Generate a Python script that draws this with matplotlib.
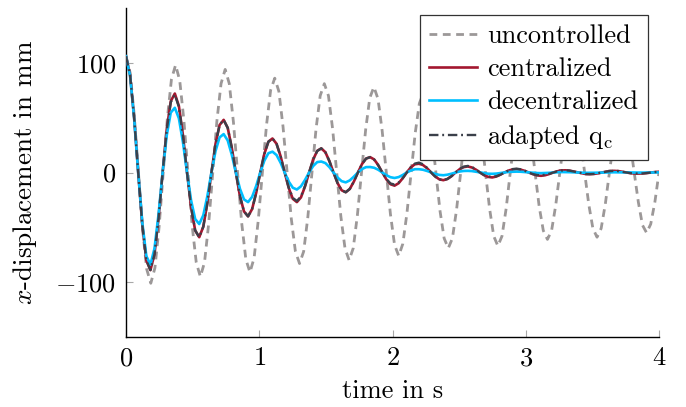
import numpy as np
import matplotlib
matplotlib.use("Agg")
import matplotlib.pyplot as plt

plt.rcParams['font.family'] = 'serif'
plt.rcParams['font.serif'] = ['cmr10']
plt.rcParams['mathtext.fontset'] = 'cm'
plt.rcParams['axes.formatter.use_mathtext'] = True
plt.rcParams['axes.unicode_minus'] = True

# time grids (s)
t_uncontrolled = np.linspace(0.0, 4.0, 130)
t_controlled = np.linspace(0.0, 4.0, 132)

# x-displacement in mm
uncontrolled = [
    106, 91, 52, 0, -51, -88,
    -101, -87, -50, 0, 49, 85,
    98, 84, 48, 0, -48, -82,
    -95, -82, -47, 0, 47, 81,
    94, 81, 46, 0, -46, -79,
    -91, -78, -44, 0, 43, 75,
    86, 74, 42, 0, -42, -72,
    -83, -72, -41, 0, 40, 70,
    81, 70, 40, 0, -40, -69,
    -80, -69, -39, 0, 39, 68,
    78, 67, 38, 0, -38, -66,
    -76, -65, -37, 0, 36, 63,
    73, 62, 36, 0, -35, -60,
    -69, -60, -34, 0, 34, 59,
    68, 59, 34, 0, -33, -58,
    -67, -58, -33, 0, 32, 56,
    64, 55, 32, 0, -31, -53,
    -61, -53, -30, 0, 30, 52,
    60, 52, 30, 0, -29, -51,
    -59, -51, -29, 0, 28, 49,
    57, 49, 28, 0, -27, -48,
    -55, -47, -27, 0,
]

centralized = [
    106, 89, 50, 0, -47.5, -80,
    -89, -74.5, -41.5, 0, 39, 65,
    72, 60.6, 34, 0, -31.5, -52.8,
    -59, -49.4, -27.5, 0, 26, 43.3,
    48, 40.7, 22.5, 0, -21.5, -35.5,
    -40, -33.3, -18.5, 0, 17, 28.1,
    31, 26.2, 14.8, 0, -14.2, -24,
    -27, -22.7, -12.7, 0, 11.8, 19.8,
    22, 18.5, 10.3, 0, -9.7, -16.2,
    -18, -15, -8.3, 0, 7.7, 12.7,
    14, 11.9, 6.7, 0, -6.3, -10.7,
    -12, -9.8, -5.3, 0, 4.7, 7.5,
    8, 6.8, 3.9, 0, -3.6, -6.2,
    -7, -5.9, -3.3, 0, 3.0, 4.9,
    5.5, 4.6, 2.6, 0, -2.4, -4.0,
    -4.5, -3.7, -2.0, 0, 1.7, 2.8,
    3, 2.6, 1.5, 0, -1.5, -2.6,
    -3, -2.5, -1.4, 0, 1.1, 1.9,
    2, 1.7, 0.9, 0, -0.8, -1.4,
    -1.5, -1.3, -0.75, 0, 0.75, 1.3,
    1.5, 1.3, 0.7, 0, -0.6, -0.9,
    -1, -0.85, -0.5, 0, 0.4, 0.7,
]

decentralized = [
    106, 88.3, 49.5, 0, -45.5, -76.2,
    -84, -69.3, -38, 0, 33.5, 54.6,
    59, 49.4, 27.5, 0, -25.5, -42.4,
    -47, -39, -21.5, 0, 19.5, 32,
    35, 29.2, 16.2, 0, -14.8, -24.5,
    -27, -22.2, -12.2, 0, 10.8, 17.6,
    19, 15.9, 8.9, 0, -8.3, -13.9,
    -15.5, -12.6, -6.8, 0, 5.9, 9.5,
    10, 8.6, 4.9, 0, -4.6, -7.9,
    -9, -7.2, -3.8, 0, 3.2, 4.9,
    5, 4.3, 2.5, 0, -2.5, -4.3,
    -5, -4.2, -2.3, 0, 1.8, 3.0,
    3, 2.5, 1.4, 0, -1.3, -2.2,
    -2.5, -2.0, -1.1, 0, 0.9, 1.4,
    1.5, 1.3, 0.7, 0, -0.6, -1.1,
    -1.2, -1.0, -0.5, 0, 0.5, 0.7,
    0.8, 0.7, 0.4, 0, -0.3, -0.5,
    -0.6, -0.5, -0.3, 0, 0.2, 0.4,
    0.4, 0.3, 0.2, 0, -0.2, -0.3,
    -0.3, -0.25, -0.15, 0, 0.1, 0.2,
    0.2, 0.15, 0.1, 0, -0.1, -0.1,
    -0.1, -0.1, 0, 0, 0, 0.1,
]

adapted_qc = [
    106, 89, 50, 0, -47.5, -80,
    -89, -74.5, -41.5, 0, 38.5, 64,
    71, 59.8, 33.5, 0, -31.5, -52.8,
    -59, -49.4, -27.5, 0, 26, 43.3,
    48, 40.7, 22.5, 0, -21.5, -35.5,
    -40, -33.3, -18.5, 0, 17, 28.1,
    31, 26.1, 14.7, 0, -13.8, -23.2,
    -26, -21.9, -12.3, 0, 11.7, 19.6,
    22, 18.5, 10.3, 0, -9.7, -16.2,
    -18, -15, -8.3, 0, 7.7, 12.7,
    14, 11.7, 6.5, 0, -6, -10,
    -11, -9.2, -5.2, 0, 4.8, 8.1,
    9, 7.5, 4.2, 0, -3.7, -6.3,
    -7, -5.9, -3.4, 0, 3.2, 5.3,
    6, 5.1, 2.7, 0, -2.3, -3.7,
    -4, -3.4, -2.0, 0, 1.8, 3.1,
    3.5, 2.9, 1.6, 0, -1.4, -2.3,
    -2.5, -2.1, -1.2, 0, 1.1, 1.8,
    2, 1.7, 0.9, 0, -0.8, -1.4,
    -1.5, -1.3, -0.75, 0, 0.75, 1.3,
    1.5, 1.3, 0.7, 0, -0.6, -0.9,
    -1, -0.85, -0.5, 0, 0.4, 0.7,
]

labels = ['uncontrolled', 'centralized', 'decentralized', r'adapted $\mathrm{q}_\mathrm{c}$']
x_ticks = [0, 1, 2, 3, 4]
y_ticks = [-100, 0, 100]

fig = plt.figure(figsize=(6.86, 4.07), dpi=100)
ax = fig.add_axes([126/686, 1-337/407, (659-126)/686, (337-8)/407])

fs = 19
ax.plot(t_uncontrolled, uncontrolled, color='#9c9898', lw=2.0,
        dashes=(2.8, 2.0), label=labels[0], zorder=2)
ax.plot(t_controlled, centralized, color='#a3172f', lw=1.9, label=labels[1], zorder=3)
ax.plot(t_controlled, decentralized, color='#00bfff', lw=1.9, label=labels[2], zorder=4)
ax.plot(t_controlled, adapted_qc, color='#3b404a', lw=1.7,
        dashes=(4.0, 1.6, 0.8, 1.6), label=labels[3], zorder=5)

ax.set_xlim(0, 4)
ax.set_ylim(-150, 150)
ax.set_xticks(x_ticks)
ax.set_yticks(y_ticks)
ax.spines['top'].set_visible(False)
ax.spines['right'].set_visible(False)
for s in ('left', 'bottom'):
    ax.spines[s].set_linewidth(1.0)
    ax.spines[s].set_color('black')
ax.tick_params(direction='in', length=5, width=0.8, color='#a8a8a8',
               labelsize=fs, pad=7)
ax.set_xlabel('time in s', fontsize=fs, labelpad=6)
ax.set_ylabel(r'$x$-displacement in mm', fontsize=19.5)
ax.yaxis.set_label_coords((39 - 126) / 533, 0.5)

leg = ax.legend(loc='upper right', bbox_to_anchor=(0.979, 0.979),
                borderaxespad=0, fontsize=fs, frameon=True, fancybox=False,
                handlelength=1.8, handletextpad=0.4, labelspacing=0.35,
                borderpad=0.35, framealpha=1.0)
leg.get_frame().set_edgecolor('#333333')
leg.get_frame().set_linewidth(0.9)

fig.savefig('out.png', dpi=100)
